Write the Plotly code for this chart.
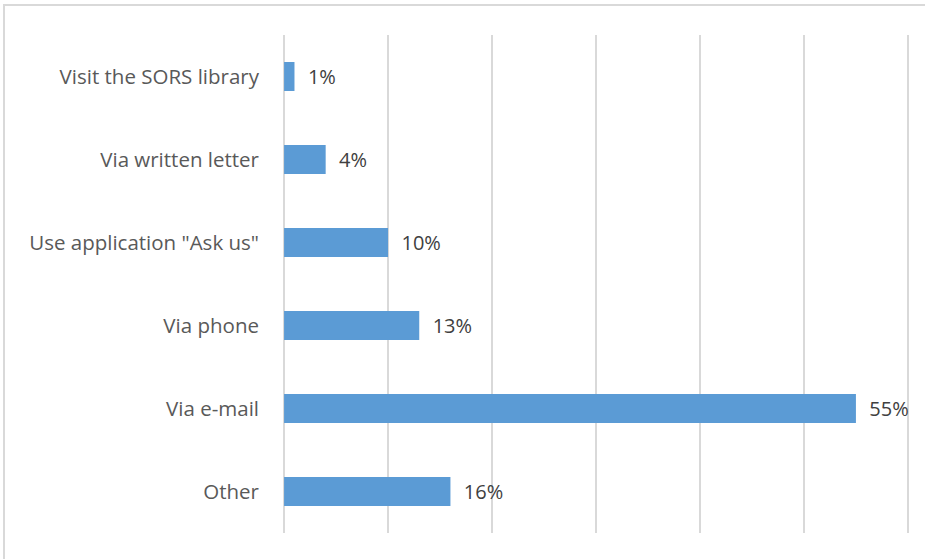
import plotly.graph_objects as go

categories = ['Other', 'Via e-mail', 'Via phone', 'Use application "Ask us"',
              'Via written letter', 'Visit the SORS library']
shares = [16, 55, 13, 10, 4, 1]
x_ticks = [0, 10, 20, 30, 40, 50, 60]

fig = go.Figure()

fig.add_trace(go.Bar(
    y=categories, x=shares,
    orientation='h',
    marker=dict(color='#5b9bd5', line=dict(width=0)),
    text=['  %d%%' % v for v in shares],
    textposition='outside',
    textfont=dict(family='Open Sans', size=20, color='#404040'),
    cliponaxis=False,
))

# outer chart border, partly cut off like the screenshot
fig.add_shape(type='rect', xref='paper', yref='paper',
              x0=-0.4427, x1=1.2, y0=-0.2, y1=1.0602,
              line=dict(color='#d9d9d9', width=2), layer='below')

fig.update_layout(
    width=925, height=559,
    margin=dict(l=282, r=15, t=35, b=26),
    paper_bgcolor='white', plot_bgcolor='white',
    showlegend=False,
    bargap=0.65,
    font=dict(family='Open Sans', size=20.5, color='#595959'),
    # padded range so the gridlines at 0 and 60 are kept
    xaxis=dict(range=[-0.2, 60.2], tickvals=x_ticks, showticklabels=False,
               showgrid=True, gridcolor='#d9d9d9', gridwidth=1.5,
               zeroline=False, showline=False),
    yaxis=dict(showgrid=False, zeroline=False, showline=False,
               ticks='', ticklabelstandoff=22),
)

fig.write_html("out.html", config={'displayModeBar': False},
               post_script="document.body.style.margin='0';")
